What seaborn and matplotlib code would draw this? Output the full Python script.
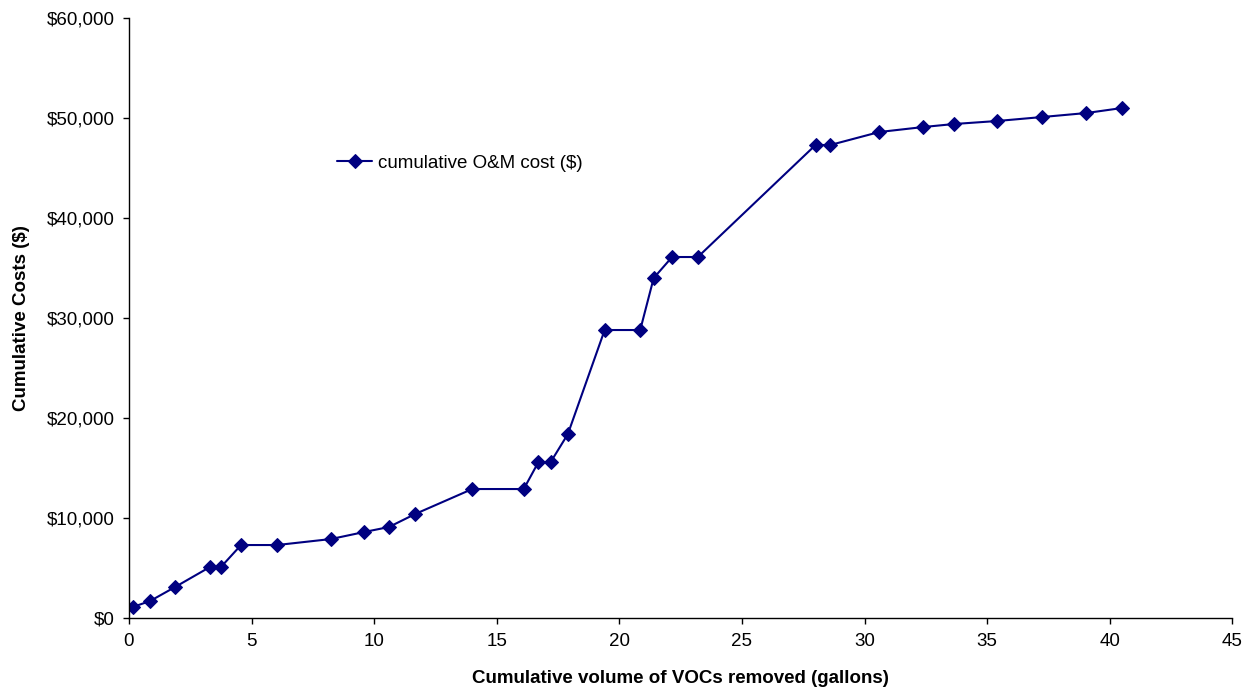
import seaborn as sns
import matplotlib.pyplot as plt
import pandas as pd
from matplotlib.ticker import FuncFormatter

# cumulative VOC volume removed (gallons) and cumulative O&M cost ($)
volume = [0.15, 0.86, 1.88, 3.3, 3.75, 4.57, 6.04, 8.24, 9.59, 10.6, 11.67,
          14.0, 16.1, 16.7, 17.2, 17.9, 19.4, 20.85, 21.4, 22.15, 23.2,
          28.0, 28.6, 30.6, 32.4, 33.65, 35.4, 37.25, 39.05, 40.5]
cost = [1100, 1700, 3100, 5100, 5100, 7300, 7300, 7900, 8600, 9100, 10400,
        12900, 12900, 15600, 15600, 18400, 28800, 28800, 34000, 36100, 36100,
        47300, 47300, 48600, 49100, 49400, 49700, 50100, 50500, 51000]

df = pd.DataFrame({"volume": volume, "cost": cost})

sns.set_style("white")
plt.rcParams["font.family"] = ["Liberation Sans", "DejaVu Sans"]
plt.rcParams["text.color"] = "black"
plt.rcParams["axes.labelcolor"] = "black"

fig = plt.figure(figsize=(12.51, 6.9), dpi=100)
ax = fig.add_axes([0.1031, 0.1043, 0.882, 0.8696])

sns.lineplot(data=df, x="volume", y="cost", sort=False, color="#000080",
             marker="D", markersize=7, markeredgecolor="#000080",
             linewidth=1.5, label="cumulative O&M cost ($)", ax=ax)

ax.set_xlim(0, 45)
ax.set_ylim(0, 60000)
ax.set_xticks(range(0, 46, 5))
ax.set_yticks(range(0, 60001, 10000))
ax.yaxis.set_major_formatter(FuncFormatter(lambda v, p: f"${v:,.0f}"))

for s in ["top", "right"]:
    ax.spines[s].set_visible(False)
for s in ["left", "bottom"]:
    ax.spines[s].set_color("black")
    ax.spines[s].set_linewidth(1.0)

ax.tick_params(axis="both", direction="out", length=4.5, width=1,
               color="black", labelsize=13.5, labelcolor="black",
               bottom=True, left=True)
ax.tick_params(axis="y", pad=6)
ax.tick_params(axis="x", pad=6)

ax.set_xlabel("Cumulative volume of VOCs removed (gallons)",
              fontsize=13.5, fontweight="bold", labelpad=15, color="black")
ax.set_ylabel("Cumulative Costs ($)", fontsize=13.5, fontweight="bold",
              labelpad=12, color="black")

leg = ax.legend(loc="center left", bbox_to_anchor=(0.173, 0.758),
                frameon=False, fontsize=13.5, handlelength=1.9,
                handletextpad=0.3)
for t in leg.get_texts():
    t.set_color("black")

fig.savefig("out.png", dpi=100)
